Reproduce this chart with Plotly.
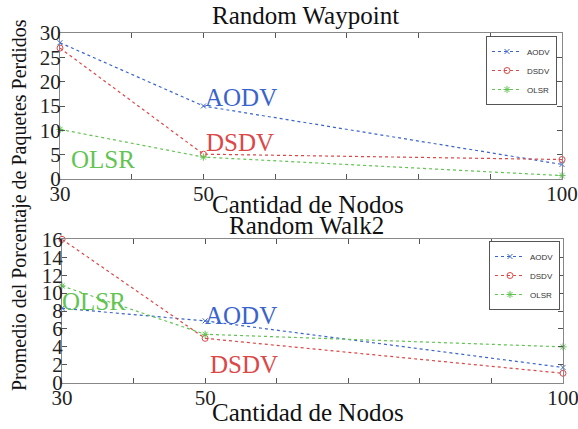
import plotly.graph_objects as go

nodes = [30, 50, 100]
x_ticks = [30, 40, 50, 60, 70, 80, 90, 100]
x_ticktext = ["30", "", "50", "", "", "", "", "100"]

# Random Waypoint
rwp_aodv = [28.0, 15.0, 3.0]
rwp_dsdv = [26.9, 5.1, 4.0]
rwp_olsr = [10.2, 4.5, 0.7]

# Random Walk2
rw2_aodv = [8.3, 6.9, 1.7]
rw2_dsdv = [16.0, 4.95, 1.05]
rw2_olsr = [10.8, 5.4, 4.0]

protocols = ["AODV", "DSDV", "OLSR"]
colors = {"AODV": "#3a64cc", "DSDV": "#dc4848", "OLSR": "#62c452"}
symbols = {"AODV": "x-thin-open", "DSDV": "circle-open", "OLSR": "asterisk-open"}
sizes = {"AODV": 5, "DSDV": 6, "OLSR": 6}

serif = "Liberation Serif, Times New Roman, serif"

fig = go.Figure()

for name, vals in zip(protocols, [rwp_aodv, rwp_dsdv, rwp_olsr]):
    fig.add_trace(go.Scatter(
        x=nodes, y=vals, name=name, mode="lines+markers",
        line=dict(color=colors[name], width=1.2, dash="dot"),
        marker=dict(symbol=symbols[name], size=sizes[name], color=colors[name],
                    line=dict(color=colors[name], width=1)),
        xaxis="x", yaxis="y", legend="legend", cliponaxis=False))

for name, vals in zip(protocols, [rw2_aodv, rw2_dsdv, rw2_olsr]):
    fig.add_trace(go.Scatter(
        x=nodes, y=vals, name=name, mode="lines+markers",
        line=dict(color=colors[name], width=1.2, dash="dot"),
        marker=dict(symbol=symbols[name], size=sizes[name], color=colors[name],
                    line=dict(color=colors[name], width=1)),
        xaxis="x2", yaxis="y2", legend="legend2", cliponaxis=False))

axis_common = dict(showline=True, linecolor="#888888", linewidth=1, mirror="ticks",
                   ticks="inside", ticklen=5, tickcolor="#555555", showgrid=False,
                   zeroline=False, automargin=False, ticklabeloverflow="allow",
                   tickfont=dict(family=serif, size=21, color="#222222"))

legend_font = dict(family="Liberation Sans, Arial, sans-serif", size=8, color="#333333")

fig.update_layout(
    width=578, height=429,
    margin=dict(l=0, r=0, t=0, b=0, autoexpand=False),
    paper_bgcolor="white", plot_bgcolor="white",
    xaxis=dict(domain=[60/578, 562/578], anchor="y", range=[30, 100],
               tickvals=x_ticks, ticktext=x_ticktext, ticklabelstandoff=-4, **axis_common),
    yaxis=dict(domain=[1-179/429, 1-33/429], anchor="x", range=[0, 30],
               tickvals=[0, 5, 10, 15, 20, 25, 30], ticklabelstandoff=-6, **axis_common),
    xaxis2=dict(domain=[62/578, 563/578], anchor="y2", range=[30, 100],
                tickvals=x_ticks, ticktext=x_ticktext, ticklabelstandoff=-4, **axis_common),
    yaxis2=dict(domain=[1-382.7/429, 1-239.3/429], anchor="x2", range=[0, 16],
                tickvals=list(range(0, 17, 2)), ticklabelstandoff=-6, **axis_common),
    legend=dict(x=557/578, y=1-36/429, xanchor="right", yanchor="top",
                bordercolor="#555555", borderwidth=1, bgcolor="white",
                font=legend_font, itemwidth=30, tracegroupgap=0),
    legend2=dict(x=560/578, y=1-241/429, xanchor="right", yanchor="top",
                 bordercolor="#555555", borderwidth=1, bgcolor="white",
                 font=legend_font, itemwidth=30, tracegroupgap=0),
    showlegend=True,
)

def txt(x, y, text, size, color="#111111", angle=0):
    fig.add_annotation(x=x/578, y=1-y/429, xref="paper", yref="paper", text=text,
                       showarrow=False, textangle=angle,
                       font=dict(family=serif, size=size, color=color),
                       xanchor="center", yanchor="middle")

txt(305, 15, "Random Waypoint", 25)
txt(308, 205, "Cantidad de Nodos", 25)
txt(306, 225, "Random Walk2", 25)
txt(308, 412, "Cantidad de Nodos", 25)
txt(20, 205, "Promedio del Porcentaje de Paquetes Perdidos", 20, angle=-90)

# in-plot labels
txt(241, 97, "AODV", 25, colors["AODV"])
txt(240, 143, "DSDV", 25, colors["DSDV"])
txt(103, 159, "OLSR", 25, colors["OLSR"])
txt(94, 301, "OLSR", 25, colors["OLSR"])
txt(241, 315, "AODV", 25, colors["AODV"])
txt(244, 364, "DSDV", 25, colors["DSDV"])

fig.write_html("out.html", config={"displayModeBar": False},
               post_script="document.body.style.margin='0';")
